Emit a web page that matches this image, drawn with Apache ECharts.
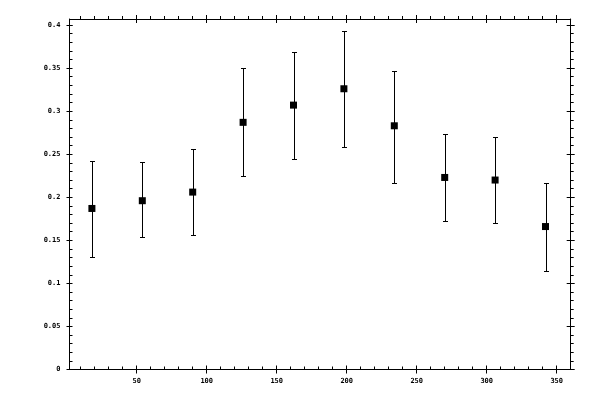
<!DOCTYPE html>
<html>
<head>
<meta charset="utf-8">
<script src="https://cdn.jsdelivr.net/npm/echarts@6/dist/echarts.min.js"></script>
<style>
html,body{margin:0;padding:0;background:#fff;}
#chart{width:600px;height:400px;}
</style>
</head>
<body>
<div id="chart"></div>
<script>
// ---- data ----
var xValues = [18, 54, 90, 126, 162, 198, 234, 270, 306, 342];
var yMeans  = [0.187, 0.196, 0.206, 0.287, 0.307, 0.326, 0.283, 0.223, 0.220, 0.166];
var yLows   = [0.131, 0.154, 0.156, 0.225, 0.244, 0.258, 0.217, 0.173, 0.170, 0.114];
var yHighs  = [0.242, 0.241, 0.256, 0.350, 0.369, 0.393, 0.347, 0.273, 0.270, 0.217];

var xMajorTicks = [50, 100, 150, 200, 250, 300, 350];
var xMinorTicks = [10, 20, 30, 40, 60, 70, 80, 90, 110, 120, 130, 140, 160, 170, 180, 190,
                   210, 220, 230, 240, 260, 270, 280, 290, 310, 320, 330, 340];
var yMajorTicks = [0, 0.05, 0.1, 0.15, 0.2, 0.25, 0.3, 0.35, 0.4];
var yMinorTicks = [0.01, 0.02, 0.03, 0.04, 0.06, 0.07, 0.08, 0.09, 0.11, 0.12, 0.13, 0.14,
                   0.16, 0.17, 0.18, 0.19, 0.21, 0.22, 0.23, 0.24, 0.26, 0.27, 0.28, 0.29,
                   0.31, 0.32, 0.33, 0.34, 0.36, 0.37, 0.38, 0.39, 0.40];

var xMin = 2, xMax = 360, yMin = 0, yMax = 0.407;

var chart = echarts.init(document.getElementById('chart'), null, {renderer: 'canvas'});

function makeAxis(kind, pos, showLine, ticks, inside, len, labels) {
  var a = {
    type: 'value',
    position: pos,
    min: kind === 'x' ? xMin : yMin,
    max: kind === 'x' ? xMax : yMax,
    splitLine: {show: false},
    axisLine: {show: showLine, onZero: false, lineStyle: {color: '#000', width: 1}},
    axisTick: {show: !!ticks, customValues: ticks || [], inside: inside, length: len,
               lineStyle: {color: '#000', width: 1}},
    axisLabel: {show: false},
    z: 5
  };
  if (labels) {
    a.axisLabel = {
      show: true,
      customValues: labels,
      color: '#000',
      fontFamily: 'DejaVu Sans Mono',
      fontWeight: 'bold',
      fontSize: 7,
      margin: kind === 'x' ? 8 : 9
    };
  }
  return a;
}

var option = {
  backgroundColor: '#fff',
  animation: false,
  grid: {left: 69.5, right: 29.3, top: 19, bottom: 30.5, containLabel: false},
  xAxis: [
    makeAxis('x', 'bottom', true, xMajorTicks, true, 4, xMajorTicks),
    makeAxis('x', 'bottom', false, xMajorTicks, false, 4),
    makeAxis('x', 'bottom', false, xMinorTicks, true, 3),
    makeAxis('x', 'top', true, xMajorTicks, false, 4),
    makeAxis('x', 'top', false, xMajorTicks, true, 4),
    makeAxis('x', 'top', false, xMinorTicks, false, 3)
  ],
  yAxis: [
    makeAxis('y', 'left', true, yMajorTicks, false, 3, yMajorTicks),
    makeAxis('y', 'left', false, yMajorTicks, true, 3),
    makeAxis('y', 'left', false, yMinorTicks, true, 3),
    makeAxis('y', 'right', true, yMajorTicks, false, 4),
    makeAxis('y', 'right', false, yMajorTicks, true, 4),
    makeAxis('y', 'right', false, yMinorTicks, false, 3)
  ],
  series: [
    {
      type: 'custom',
      xAxisIndex: 0,
      yAxisIndex: 0,
      data: xValues.map(function (x, i) { return [x, yLows[i], yHighs[i]]; }),
      renderItem: function (params, api) {
        var x = api.value(0);
        var pLo = api.coord([x, api.value(1)]);
        var pHi = api.coord([x, api.value(2)]);
        var cxi = Math.round(pLo[0]);
        var cx = cxi + 0.5;
        var yl = Math.round(pLo[1]) + 0.5;
        var yh = Math.round(pHi[1]) + 0.5;
        var st = {stroke: '#000', lineWidth: 1};
        return {
          type: 'group',
          children: [
            {type: 'line', shape: {x1: cx, y1: yh, x2: cx, y2: yl}, style: st},
            {type: 'line', shape: {x1: cxi - 2, y1: yh, x2: cxi + 3, y2: yh}, style: st},
            {type: 'line', shape: {x1: cxi - 2, y1: yl, x2: cxi + 3, y2: yl}, style: st}
          ]
        };
      },
      z: 3
    },
    {
      type: 'scatter',
      xAxisIndex: 0,
      yAxisIndex: 0,
      symbol: 'rect',
      symbolSize: 7,
      itemStyle: {color: '#000', opacity: 1},
      emphasis: {disabled: true},
      data: xValues.map(function (x, i) { return [x, yMeans[i]]; }),
      z: 4
    }
  ]
};

chart.setOption(option);
</script>
</body>
</html>
